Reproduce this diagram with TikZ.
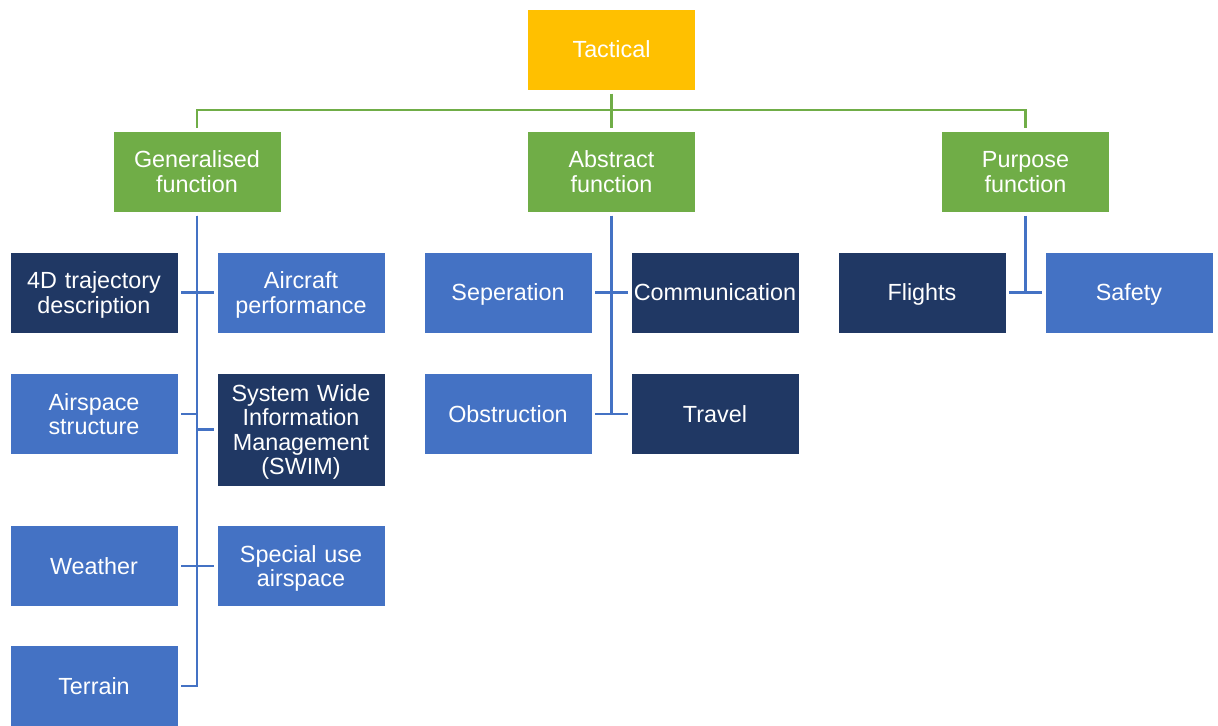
\documentclass[tikz,border=0pt]{standalone}
\usepackage{fontspec}
\setmainfont{Liberation Sans}
\usepackage{xcolor}
\usepackage{tikz}

\definecolor{tactorange}{HTML}{FFC000}
\definecolor{fungreen}{HTML}{70AD47}
\definecolor{itemblue}{HTML}{4472C4}
\definecolor{itemnavy}{HTML}{203864}

\begin{document}
\begin{tikzpicture}[x=0.02cm,y=-0.02cm,
  box/.style={minimum width=3.36cm,minimum height=1.62cm,text width=3.36cm,inner sep=0pt,outer sep=0pt,
    align=center,text=white,draw=white,line width=0.4pt,font=\fontsize{13.3}{13.9}\selectfont,
    execute at begin node={\rule{0pt}{12.5pt}},execute at end node={\rule[-3pt]{0pt}{3pt}}},
  tactbox/.style={box,fill=tactorange},
  funbox/.style={box,fill=fungreen},
  lightbox/.style={box,fill=itemblue},
  darkbox/.style={box,fill=itemnavy},
  gline/.style={fungreen,line width=1.4pt,shorten <=0.08cm,shorten >=0.07cm},
  bline/.style={itemblue,line width=1.4pt,shorten <=0.08cm,shorten >=0.07cm}]
  \useasboundingbox (0,0) rectangle (1218,726);
  % Top level
  \node[tactbox] (tact) at (611.5,49.5) {Tactical};
  % Function level
  \node[funbox] (gen)  at (197,171.5)    {Generalised\\function};
  \node[funbox] (abs)  at (611.5,171.5)  {Abstract\\function};
  \node[funbox] (purp) at (1025.5,171.5) {Purpose\\function};
  \foreach \f in {gen,abs,purp}
    \draw[gline] (tact.south) -- ++(0,20) -| (\f.north);
  % Generalised function items
  \node[darkbox]  (traj)    at (94,292.5)  {4D trajectory\\description};
  \node[lightbox] (perf)    at (301,292.5) {Aircraft\\performance};
  \node[lightbox] (airsp)   at (94,414)    {Airspace\\structure};
  \node[darkbox,minimum height=2.26cm] (swim) at (301,429.5)
    {System Wide\\Information\\Management\\(SWIM)};
  \node[lightbox] (weather) at (94,566)    {Weather};
  \node[lightbox] (special) at (301,566)   {Special use\\airspace};
  \node[lightbox] (terrain) at (94,686)    {Terrain};
  \foreach \c in {traj,airsp,weather,terrain}
    \draw[bline] (gen.south) |- (\c.east);
  \foreach \c in {perf,swim,special}
    \draw[bline] (gen.south) |- (\c.west);
  % Abstract function items
  \node[lightbox] (sep)    at (508,292.5) {Seperation};
  \node[darkbox]  (comm)   at (715,292.5) {Communication};
  \node[lightbox] (obs)    at (508,414)   {Obstruction};
  \node[darkbox]  (travel) at (715,414)   {Travel};
  \foreach \c in {sep,obs}
    \draw[bline] (abs.south) |- (\c.east);
  \foreach \c in {comm,travel}
    \draw[bline] (abs.south) |- (\c.west);
  % Purpose function items
  \node[darkbox]  (flights) at (922,292.5)  {Flights};
  \node[lightbox] (safety)  at (1129,292.5) {Safety};
  \draw[bline] (purp.south) |- (flights.east);
  \draw[bline] (purp.south) |- (safety.west);
\end{tikzpicture}
\end{document}
